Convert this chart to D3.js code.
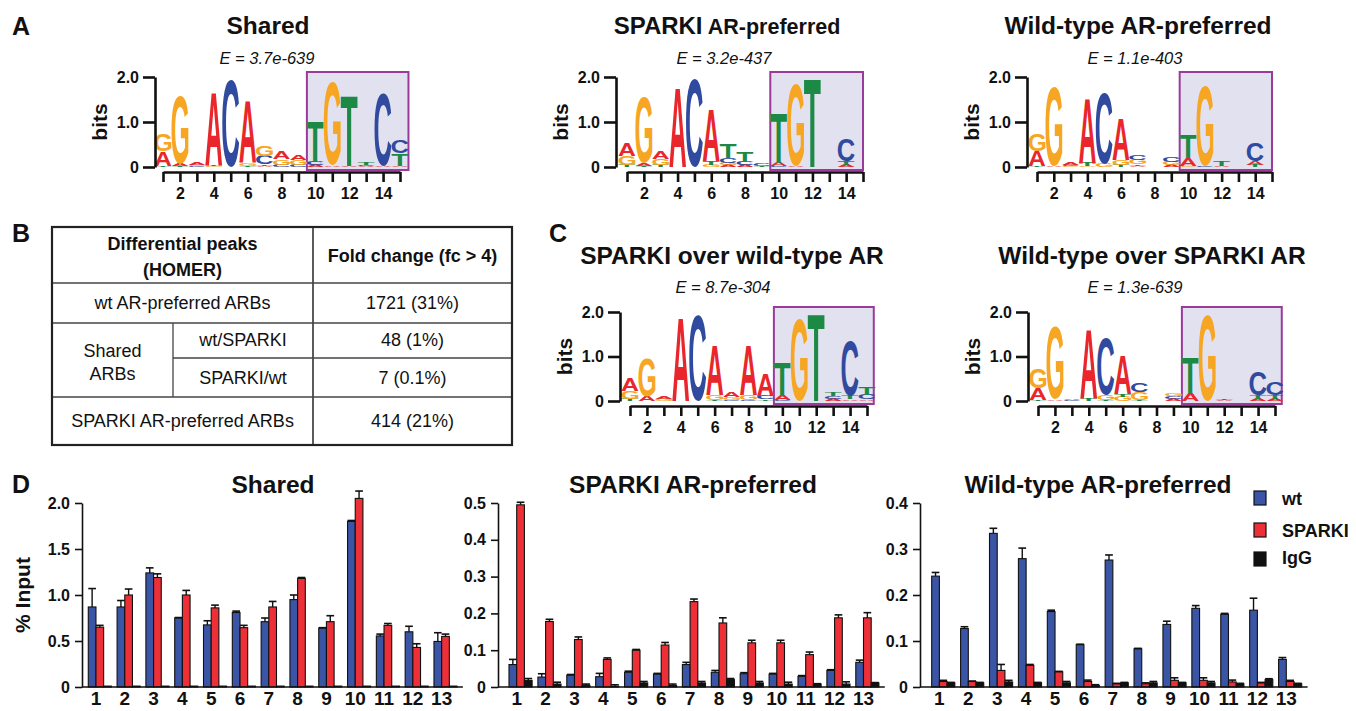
<!DOCTYPE html>
<html>
<head>
<meta charset="utf-8">
<script src="https://cdn.jsdelivr.net/npm/d3@7"></script>
<style>
body { margin: 0; background: #fff; }
</style>
</head>
<body>
<svg id="fig" width="1356" height="711"></svg>
<script>
var FONT = '"Liberation Sans", Arial, Helvetica, sans-serif';

// ---- motif logos: each column is a stack [letter, bits] from bottom to top ----
var logoShared = [
    [["T", .03], ["A", .32], ["G", .38]],
    [["T", .02], ["A", .05], ["G", 1.53]],
    [["C", .02], ["G", .02], ["A", .06]],
    [["G", .02], ["T", .03], ["A", 1.62]],
    [["C", 1.92]],
    [["T", .03], ["G", .06], ["A", 1.38]],
    [["A", .03], ["T", .03], ["C", .19], ["G", .22]],
    [["C", .05], ["G", .12], ["A", .16]],
    [["C", .05], ["G", .10], ["A", .12]],
    [["A", .04], ["C", .08], ["T", .88]],
    [["A", .03], ["G", 1.85]],
    [["A", .03], ["T", 1.55]],
    [["A", .02], ["C", .02], ["T", .06]],
    [["A", .03], ["C", 1.60]],
    [["A", .03], ["T", .27], ["C", .30]]
];
var logoSparkiPref = [
    [["T", .05], ["G", .20], ["A", .30]],
    [["T", .03], ["A", .05], ["G", 1.45]],
    [["T", .05], ["G", .13], ["A", .17]],
    [["A", 1.77]],
    [["C", 1.97]],
    [["G", .05], ["T", .08], ["A", 1.15]],
    [["A", .04], ["G", .05], ["C", .10], ["T", .30]],
    [["A", .05], ["C", .07], ["T", .23]],
    [["T", .03], ["C", .05]],
    [["C", .02], ["A", .08], ["T", 1.10]],
    [["A", .03], ["G", 1.80]],
    [["T", 1.97]],
    [["A", .01], ["T", .01]],
    [["A", .05], ["T", .08], ["C", .50]],
    [["A", .01], ["C", .01]]
];
var logoWtPref = [
    [["T", .03], ["A", .33], ["G", .38]],
    [["A", .03], ["G", 1.75]],
    [["G", .02], ["C", .02], ["A", .06]],
    [["G", .03], ["T", .07], ["A", 1.45]],
    [["G", .07], ["C", 1.58]],
    [["T", .04], ["G", .12], ["A", .93]],
    [["A", .03], ["T", .03], ["G", .10], ["C", .12]],
    [],
    [["A", .04], ["G", .08], ["C", .10]],
    [["G", .03], ["A", .17], ["T", .52]],
    [["C", .03], ["G", 1.80]],
    [["A", .03], ["T", .10]],
    [],
    [["T", .04], ["A", .08], ["C", .42]],
    []
];
var logoSparkiOverWt = [
    [["T", .05], ["G", .17], ["A", .28]],
    [["A", .10], ["G", .85]],
    [["G", .05], ["A", .05]],
    [["A", 1.88]],
    [["C", 1.92]],
    [["T", .03], ["G", .10], ["A", 1.10]],
    [["C", .03], ["G", .07], ["A", .10]],
    [["C", .03], ["G", .10], ["A", 1.10]],
    [["T", .04], ["C", .08], ["A", .50]],
    [["C", .03], ["A", .10], ["T", .73]],
    [["G", 1.83]],
    [["T", 1.95]],
    [["A", .05], ["C", .06], ["T", .08]],
    [["A", .04], ["T", .08], ["C", 1.25]],
    [["A", .04], ["C", .10], ["T", .18]]
];
var logoWtOverSparki = [
    [["T", .02], ["A", .27], ["G", .45]],
    [["A", .04], ["G", 1.63]],
    [["C", .02], ["A", .03]],
    [["T", .06], ["A", 1.55]],
    [["T", .02], ["G", .11], ["C", 1.27]],
    [["G", .10], ["T", .06], ["A", .88]],
    [["T", .03], ["G", .17], ["C", .20]],
    [],
    [["A", .05], ["C", .06], ["G", .06]],
    [["A", .17], ["T", .80]],
    [["G", 1.93]],
    [["A", .02], ["T", .04]],
    [],
    [["A", .05], ["T", .08], ["C", .52]],
    [["A", .05], ["T", .08], ["C", .30]]
];
var logoEvalues = ["E = 3.7e-639", "E = 3.2e-437", "E = 1.1e-403", "E = 8.7e-304", "E = 1.3e-639"];
var logoTicks = [0, 1, 2];

// ---- table B ----
var tableHeader = [["Differential peaks", "(HOMER)"], "Fold change (fc > 4)"];
var tableGroups = ["wt AR-preferred ARBs", "Shared ARBs", "SPARKI AR-preferred ARBs"];
var tableSubRows = ["wt/SPARKI", "SPARKI/wt"];
var tableCounts = ["1721 (31%)", "48 (1%)", "7 (0.1%)", "414 (21%)"];

// ---- ChIP-qPCR panel D ----
var sites = d3.range(1, 14);
var seriesNames = ["wt", "SPARKI", "IgG"];
var seriesColors = ["#3a55a5", "#ed2f37", "#111111"];

var sharedWt = [0.87, 0.87, 1.24, 0.75, 0.675, 0.81, 0.71, 0.95, 0.64, 1.80, 0.555, 0.60, 0.495];
var sharedWtErr = [0.20, 0.07, 0.055, 0.005, 0.045, 0.015, 0.04, 0.05, 0.005, 0.01, 0.02, 0.06, 0.095];
var sharedSparki = [0.65, 1.0, 1.19, 1.0, 0.86, 0.645, 0.87, 1.18, 0.71, 2.05, 0.67, 0.43, 0.55];
var sharedSparkiErr = [0.02, 0.065, 0.04, 0.05, 0.03, 0.025, 0.06, 0.01, 0.065, 0.08, 0.02, 0.04, 0.025];
var sharedIgg = [0.01, 0.01, 0.01, 0.01, 0.01, 0.01, 0.01, 0.01, 0.01, 0.01, 0.01, 0.01, 0.01];
var sharedIggErr = [0, 0, 0, 0, 0, 0, 0, 0, 0, 0, 0, 0, 0];

var spWt = [0.061, 0.027, 0.032, 0.028, 0.040, 0.035, 0.061, 0.040, 0.036, 0.035, 0.029, 0.045, 0.067];
var spWtErr = [0.014, 0.009, 0.002, 0.009, 0.003, 0.002, 0.006, 0.005, 0.003, 0.002, 0.002, 0.002, 0.006];
var spSparki = [0.495, 0.178, 0.129, 0.075, 0.100, 0.114, 0.232, 0.174, 0.120, 0.120, 0.088, 0.188, 0.188];
var spSparkiErr = [0.007, 0.006, 0.007, 0.004, 0.002, 0.007, 0.007, 0.014, 0.007, 0.007, 0.007, 0.008, 0.014];
var spIgg = [0.018, 0.008, 0.005, 0.002, 0.011, 0.004, 0.011, 0.020, 0.011, 0.008, 0.008, 0.008, 0.011];
var spIggErr = [0.005, 0.005, 0.003, 0.004, 0.004, 0.004, 0.004, 0.003, 0.004, 0.005, 0.001, 0.006, 0.001];

var wtpWt = [0.241, 0.127, 0.334, 0.279, 0.164, 0.092, 0.276, 0.083, 0.136, 0.171, 0.158, 0.167, 0.060];
var wtpWtErr = [0.008, 0.004, 0.011, 0.023, 0.003, 0.001, 0.011, 0.001, 0.007, 0.006, 0.002, 0.026, 0.004];
var wtpSparki = [0.012, 0.012, 0.036, 0.047, 0.033, 0.012, 0.007, 0.007, 0.0145, 0.0145, 0.011, 0.009, 0.012];
var wtpSparkiErr = [0.0025, 0.001, 0.013, 0.002, 0.001, 0.003, 0.001, 0.002, 0.0055, 0.0055, 0.004, 0.001, 0.0025];
var wtpIgg = [0.009, 0.009, 0.011, 0.009, 0.009, 0.003, 0.009, 0.009, 0.009, 0.009, 0.007, 0.016, 0.007];
var wtpIggErr = [0.001, 0.001, 0.0035, 0.001, 0.003, 0.002, 0.001, 0.003, 0.001, 0.003, 0.001, 0.002, 0.001];

var svg = d3.select("#fig");
var letterColors = { A: "#e8262b", C: "#2f4a9e", G: "#f6a623", T: "#1c8a45" };

// tight glyph boxes so letters can be stretched to their stack height
var ctx = document.createElement("canvas").getContext("2d");
ctx.font = "bold 100px " + FONT;
var glyph = {};
["A", "C", "G", "T"].forEach(function (l) {
    var m = ctx.measureText(l);
    glyph[l] = {
        left: m.actualBoundingBoxLeft,
        w: m.actualBoundingBoxLeft + m.actualBoundingBoxRight,
        asc: m.actualBoundingBoxAscent,
        h: m.actualBoundingBoxAscent + m.actualBoundingBoxDescent
    };
});

function label(txt, x, y, size, opts) {
    opts = opts || {};
    return svg.append("text")
        .attr("x", x).attr("y", y)
        .attr("text-anchor", opts.anchor || "start")
        .attr("fill", "#111")
        .style("font-family", FONT)
        .style("font-size", size + "px")
        .style("font-weight", opts.weight || "bold")
        .style("font-style", opts.style || "normal")
        .text(txt);
}

function tickFmt(d) { return d === 0 ? "0" : d.toFixed(1); }

function drawLogo(o) {
    var g = svg.append("g");
    var x = d3.scaleLinear().domain([1, 15]).range([o.x1, o.x15]);
    var y = d3.scaleLinear().domain([0, 2]).range([o.y0, o.y2]);
    var step = x(2) - x(1);

    g.append("rect")
        .attr("x", x(9.5)).attr("y", o.y2 - 5)
        .attr("width", x(o.boxEnd) - x(9.5))
        .attr("height", o.y0 + 3 - (o.y2 - 5))
        .attr("fill", "#e1e1ef")
        .attr("stroke", "#9a3b9c")
        .attr("stroke-width", 2);

    o.data.forEach(function (col, i) {
        var base = 0;
        col.forEach(function (d) {
            var top = y(base + d[1]), bot = y(base);
            base += d[1];
            var hpx = bot - top;
            if (hpx < 0.6) return;
            var m = glyph[d[0]], w = step * 1.0;
            g.append("text")
                .attr("transform", "translate(" + (x(i + 1) - w / 2) + "," + top + ") scale(" + (w / m.w) + "," + (hpx / m.h) + ")")
                .attr("x", m.left).attr("y", m.asc)
                .attr("fill", letterColors[d[0]])
                .style("font", "bold 100px " + FONT)
                .text(d[0]);
        });
    });

    var ya = g.append("g")
        .attr("transform", "translate(" + o.yAxisX + ",0)")
        .call(d3.axisLeft(y).tickValues(logoTicks).tickFormat(tickFmt).tickSize(12).tickSizeOuter(0).tickPadding(4));
    var xa = g.append("g")
        .attr("transform", "translate(0," + (o.y0 + 5) + ")")
        .call(d3.axisBottom(x).tickValues(d3.range(1, 16)).tickSize(10).tickSizeOuter(0).tickPadding(6)
            .tickFormat(function (d) { return d % 2 === 0 ? d : ""; }));
    [ya, xa].forEach(function (a) {
        a.selectAll("path, line").attr("stroke", "#111").attr("stroke-width", 2.6);
        a.selectAll("text").attr("fill", "#111").style("font", "bold 16px " + FONT);
    });

    svg.append("text")
        .attr("transform", "translate(" + (o.yAxisX - 48) + "," + ((o.y0 + o.y2) / 2) + ") rotate(-90)")
        .attr("text-anchor", "middle")
        .attr("fill", "#111")
        .style("font", "bold 21px " + FONT)
        .text("bits");

    label(o.evalue, o.eX, o.titleY + 30, 16.5, { anchor: "middle", weight: "normal", style: "italic" });
}

function drawBars(o) {
    var g = svg.append("g");
    var x = d3.scaleBand().domain(sites).range([o.xa, o.xb]).paddingInner(0.2).paddingOuter(0.1);
    var xs = d3.scaleBand().domain(seriesNames).range([0, x.bandwidth()]);
    var y = d3.scaleLinear().domain([0, o.max]).range([687, 503]);

    o.series.forEach(function (s, si) {
        var vals = s[0], errs = s[1];
        var grp = g.append("g");
        grp.selectAll("rect").data(sites).enter().append("rect")
            .attr("x", function (d, i) { return x(d) + xs(seriesNames[si]); })
            .attr("y", function (d, i) { return y(vals[i]); })
            .attr("width", xs.bandwidth())
            .attr("height", function (d, i) { return y(0) - y(vals[i]); })
            .attr("fill", seriesColors[si])
            .attr("stroke", "#111")
            .attr("stroke-width", 1.1);
        sites.forEach(function (d, i) {
            if (!errs[i]) return;
            var cx = x(d) + xs(seriesNames[si]) + xs.bandwidth() / 2;
            var yt = y(vals[i] + errs[i]);
            grp.append("line").attr("x1", cx).attr("x2", cx).attr("y1", y(vals[i])).attr("y2", yt)
                .attr("stroke", "#111").attr("stroke-width", 1.4);
            grp.append("line").attr("x1", cx - xs.bandwidth() / 2).attr("x2", cx + xs.bandwidth() / 2)
                .attr("y1", yt).attr("y2", yt)
                .attr("stroke", "#111").attr("stroke-width", 1.6);
        });
    });

    var ya = g.append("g")
        .attr("transform", "translate(" + o.axisX + ",0)")
        .call(d3.axisLeft(y).tickValues(o.ticks).tickFormat(tickFmt).tickSize(7).tickSizeOuter(0).tickPadding(5));
    ya.selectAll("path, line").attr("stroke", "#111").attr("stroke-width", 1.6);
    ya.selectAll("text").attr("fill", "#111").style("font", "bold 16px " + FONT);

    g.append("line").attr("x1", o.axisX).attr("x2", o.xb + 3).attr("y1", y(0)).attr("y2", y(0))
        .attr("stroke", "#111").attr("stroke-width", 1.6);

    g.selectAll("text.site").data(sites).enter().append("text")
        .attr("class", "site")
        .attr("x", function (d) { return x(d) + x.bandwidth() / 3; })
        .attr("y", 705)
        .attr("text-anchor", "middle")
        .attr("fill", "#111")
        .style("font", "bold 19px " + FONT)
        .text(function (d) { return d; });

    label(o.title, o.titleX, 493, 24.5, { anchor: "middle" });
}

// ---- panel letters ----
label("A", 12, 35, 25);
label("B", 12, 242, 25);
label("C", 549, 242, 25);
label("D", 12, 493, 25);

// ---- panel A ----
label("Shared", 268, 34, 24.5, { anchor: "middle" });
var t2 = label("SPARKI", 727, 34, 24, { anchor: "middle" });
t2.append("tspan").style("font-size", "21.5px").text(" AR-preferred");
label("Wild-type AR-preferred", 1138, 34, 24.5, { anchor: "middle" });

drawLogo({ data: logoShared, evalue: logoEvalues[0], eX: 267, titleY: 34, yAxisX: 155, x1: 163, x15: 400, y0: 167, y2: 77, boxEnd: 15.5 });
drawLogo({ data: logoSparkiPref, evalue: logoEvalues[1], eX: 724, titleY: 34, yAxisX: 616, x1: 627, x15: 863, y0: 167, y2: 77, boxEnd: 15.0 });
drawLogo({ data: logoWtPref, evalue: logoEvalues[2], eX: 1135, titleY: 34, yAxisX: 1027, x1: 1037, x15: 1272, y0: 167, y2: 77, boxEnd: 15.0 });

// ---- panel C ----
label("SPARKI over wild-type AR", 732, 264, 24.5, { anchor: "middle" });
label("Wild-type over SPARKI AR", 1152, 264, 24.5, { anchor: "middle" });
drawLogo({ data: logoSparkiOverWt, evalue: logoEvalues[3], eX: 723, titleY: 263, yAxisX: 620, x1: 630, x15: 867, y0: 401, y2: 312, boxEnd: 15.4 });
drawLogo({ data: logoWtOverSparki, evalue: logoEvalues[4], eX: 1135, titleY: 263, yAxisX: 1028, x1: 1038, x15: 1275, y0: 401, y2: 312, boxEnd: 15.4 });

// ---- panel B: table ----
(function () {
    var L = 52, R = 512, T = 227, B = 445, c1 = 313, cs = 173;
    var rows = [T, 283, 323, 358, 397, B];
    var tg = svg.append("g");
    function ln(x1, y1, x2, y2, w, c) {
        tg.append("line").attr("x1", x1).attr("y1", y1).attr("x2", x2).attr("y2", y2)
            .attr("stroke", c || "#444").attr("stroke-width", w || 1.3);
    }
    ln(c1, T, c1, B, 1.6, "#333");
    ln(L, rows[1], R, rows[1]);
    ln(L, rows[2], R, rows[2]);
    ln(cs, rows[3], R, rows[3]);
    ln(L, rows[4], R, rows[4]);
    ln(cs, rows[2], cs, rows[4]);
    tg.append("rect").attr("x", L).attr("y", T).attr("width", R - L).attr("height", B - T)
        .attr("fill", "none").attr("stroke", "#222").attr("stroke-width", 2.2);

    var lc = (L + c1) / 2, rc = (c1 + R) / 2;
    function cell(txt, x, y, bold) {
        label(txt, x, y + 6, 18, { anchor: "middle", weight: bold ? "bold" : "normal" });
    }
    cell(tableHeader[0][0], lc, 244, true);
    cell(tableHeader[0][1], lc, 270, true);
    cell(tableHeader[1], rc, 256, true);
    cell(tableGroups[0], lc, 303);
    var sg = tableGroups[1].split(" ");
    cell(sg[0], (L + cs) / 2, 351);
    cell(sg[1], (L + cs) / 2, 374);
    cell(tableSubRows[0], (cs + c1) / 2, 340);
    cell(tableSubRows[1], (cs + c1) / 2, 378);
    cell(tableGroups[2], lc, 421);
    cell(tableCounts[0], rc, 303);
    cell(tableCounts[1], rc, 340);
    cell(tableCounts[2], rc, 378);
    cell(tableCounts[3], rc, 421);
})();

// ---- panel D ----
drawBars({ title: "Shared", titleX: 273, axisX: 82, xa: 85.4, xb: 459.9, max: 2.0, ticks: [0, 0.5, 1, 1.5, 2],
    series: [[sharedWt, sharedWtErr], [sharedSparki, sharedSparkiErr], [sharedIgg, sharedIggErr]] });
drawBars({ title: "SPARKI AR-preferred", titleX: 693, axisX: 498, xa: 506.1, xb: 881.8, max: 0.5, ticks: [0, 0.1, 0.2, 0.3, 0.4, 0.5],
    series: [[spWt, spWtErr], [spSparki, spSparkiErr], [spIgg, spIggErr]] });
drawBars({ title: "Wild-type AR-preferred", titleX: 1098, axisX: 920, xa: 928.8, xb: 1304.6, max: 0.4, ticks: [0, 0.1, 0.2, 0.3, 0.4],
    series: [[wtpWt, wtpWtErr], [wtpSparki, wtpSparkiErr], [wtpIgg, wtpIggErr]] });

svg.append("text")
    .attr("transform", "translate(30,595) rotate(-90)")
    .attr("text-anchor", "middle")
    .attr("fill", "#111")
    .style("font", "bold 21px " + FONT)
    .text("% Input");

// legend
var legY = [491, 523, 552], legBase = [505, 537, 564];
seriesNames.forEach(function (s, i) {
    svg.append("rect").attr("x", 1254).attr("y", legY[i]).attr("width", 12).attr("height", 14)
        .attr("fill", seriesColors[i]).attr("stroke", "#111").attr("stroke-width", 1.2);
    label(s, 1282, legBase[i], 18);
});
</script>
</body>
</html>
